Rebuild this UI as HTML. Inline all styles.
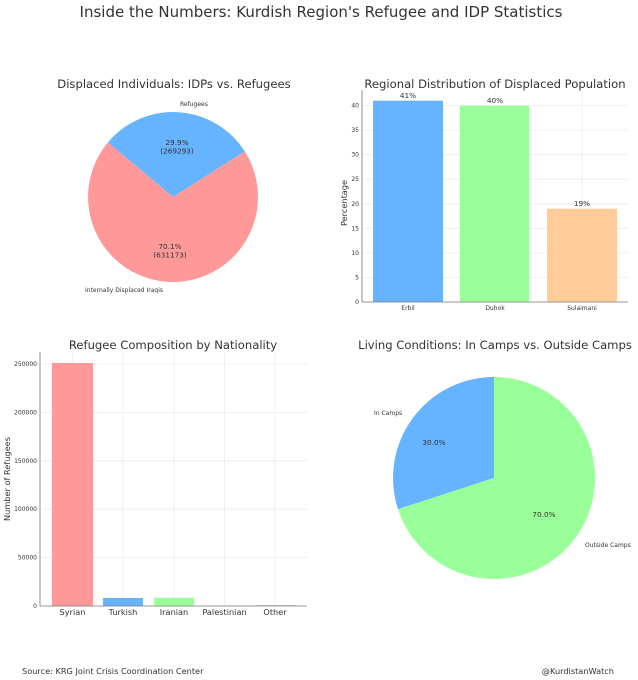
<!DOCTYPE html>
<html><head><meta charset="utf-8"><style>
body{margin:0;background:#fff}
svg{display:block;font-family:"DejaVu Sans","Liberation Sans",sans-serif}
</style></head><body>
<svg width="638" height="680" viewBox="0 0 638 680" xmlns="http://www.w3.org/2000/svg">
<rect width="638" height="680" fill="#fff"/>
<text x="321" y="17" font-size="15" text-anchor="middle" fill="#333">Inside the Numbers: Kurdish Region's Refugee and IDP Statistics</text>

<!-- Chart 1 pie -->
<text x="174" y="88" font-size="11.6" text-anchor="middle" fill="#333">Displaced Individuals: IDPs vs. Refugees</text>
<path d="M173,197 L244.8,151.5 A85,85 0 0 0 107.9,142.4 Z" fill="#66b3ff"/>
<path d="M173,197 L107.9,142.4 A85,85 0 1 0 244.8,151.5 Z" fill="#ff9999"/>
<text x="180" y="106" font-size="6" fill="#333">Refugees</text>
<text x="85" y="292" font-size="6" fill="#333">Internally Displaced Iraqis</text>
<text x="177" y="145" font-size="7.3" text-anchor="middle" fill="#333">29.9%</text>
<text x="177" y="153.5" font-size="7.3" text-anchor="middle" fill="#333">(269293)</text>
<text x="170" y="249" font-size="7.3" text-anchor="middle" fill="#333">70.1%</text>
<text x="170" y="257.5" font-size="7.3" text-anchor="middle" fill="#333">(631173)</text>

<!-- Chart 2 bars -->
<text x="495" y="88" font-size="11.6" text-anchor="middle" fill="#333">Regional Distribution of Displaced Population</text>
<g stroke="#ececec" stroke-width="0.8">
<line x1="362" x2="628" y1="277.5" y2="277.5"/><line x1="362" x2="628" y1="252.9" y2="252.9"/>
<line x1="362" x2="628" y1="228.3" y2="228.3"/><line x1="362" x2="628" y1="203.8" y2="203.8"/>
<line x1="362" x2="628" y1="179.2" y2="179.2"/><line x1="362" x2="628" y1="154.7" y2="154.7"/>
<line x1="362" x2="628" y1="130.1" y2="130.1"/><line x1="362" x2="628" y1="105.6" y2="105.6"/>
<line x1="408" x2="408" y1="90" y2="302"/><line x1="495" x2="495" y1="90" y2="302"/><line x1="582" x2="582" y1="90" y2="302"/>
</g>
<rect x="373" y="100.7" width="70" height="201.3" fill="#66b3ff"/>
<rect x="460" y="105.6" width="69" height="196.4" fill="#99ff99"/>
<rect x="547" y="208.7" width="70" height="93.3" fill="#ffcc99"/>
<line x1="362" x2="362" y1="90" y2="302" stroke="#777" stroke-width="0.8"/>
<line x1="362" x2="628" y1="302" y2="302" stroke="#777" stroke-width="0.8"/>
<g font-size="6" fill="#333" text-anchor="end">
<text x="359" y="304">0</text><text x="359" y="279.5">5</text><text x="359" y="254.9">10</text><text x="359" y="230.3">15</text>
<text x="359" y="205.8">20</text><text x="359" y="181.2">25</text><text x="359" y="156.7">30</text><text x="359" y="132.1">35</text><text x="359" y="107.6">40</text>
</g>
<g font-size="6" fill="#333" text-anchor="middle">
<text x="408" y="310">Erbil</text><text x="495" y="310">Duhok</text><text x="582" y="310">Sulaimani</text>
</g>
<g font-size="7.3" fill="#333" text-anchor="middle">
<text x="408" y="98">41%</text><text x="495" y="103">40%</text><text x="582" y="206">19%</text>
</g>
<text transform="translate(347,203) rotate(-90)" font-size="8.2" text-anchor="middle" fill="#333">Percentage</text>

<!-- Chart 3 bars -->
<text x="173" y="349" font-size="11.6" text-anchor="middle" fill="#333">Refugee Composition by Nationality</text>
<g stroke="#ececec" stroke-width="0.8">
<line x1="40" x2="307" y1="557.6" y2="557.6"/><line x1="40" x2="307" y1="509.2" y2="509.2"/>
<line x1="40" x2="307" y1="460.8" y2="460.8"/><line x1="40" x2="307" y1="412.4" y2="412.4"/>
<line x1="40" x2="307" y1="364" y2="364"/>
<line x1="72.5" x2="72.5" y1="352" y2="606"/><line x1="123" x2="123" y1="352" y2="606"/><line x1="174" x2="174" y1="352" y2="606"/>
<line x1="224.5" x2="224.5" y1="352" y2="606"/><line x1="275" x2="275" y1="352" y2="606"/>
</g>
<rect x="52" y="363" width="41" height="243" fill="#ff9999"/>
<rect x="103" y="598" width="40" height="8" fill="#66b3ff"/>
<rect x="154" y="597.8" width="40" height="8.2" fill="#99ff99"/>
<rect x="204.5" y="605.6" width="40" height="0.4" fill="#ffcc99"/>
<rect x="255" y="605.2" width="40" height="0.8" fill="#c2c2f0"/>
<line x1="40" x2="40" y1="352" y2="606" stroke="#777" stroke-width="0.8"/>
<line x1="40" x2="307" y1="606" y2="606" stroke="#777" stroke-width="0.8"/>
<g font-size="6" fill="#333" text-anchor="end">
<text x="37" y="608">0</text><text x="37" y="559.6">50000</text><text x="37" y="511.2">100000</text>
<text x="37" y="462.8">150000</text><text x="37" y="414.4">200000</text><text x="37" y="366">250000</text>
</g>
<g font-size="8.2" fill="#333" text-anchor="middle">
<text x="72.5" y="615">Syrian</text><text x="123" y="615">Turkish</text><text x="174" y="615">Iranian</text>
<text x="224.5" y="615">Palestinian</text><text x="275" y="615">Other</text>
</g>
<text transform="translate(10,479) rotate(-90)" font-size="8.2" text-anchor="middle" fill="#333">Number of Refugees</text>

<!-- Chart 4 pie -->
<text x="495" y="349" font-size="11.6" text-anchor="middle" fill="#333">Living Conditions: In Camps vs. Outside Camps</text>
<path d="M494,478 L494,377 A101,101 0 0 0 398,509.2 Z" fill="#66b3ff"/>
<path d="M494,478 L398,509.2 A101,101 0 1 0 494,377 Z" fill="#99ff99"/>
<text x="374" y="415" font-size="6" fill="#333">In Camps</text>
<text x="585" y="547" font-size="6" fill="#333">Outside Camps</text>
<text x="434" y="445" font-size="7.3" text-anchor="middle" fill="#333">30.0%</text>
<text x="544" y="517" font-size="7.3" text-anchor="middle" fill="#333">70.0%</text>

<text x="22" y="674" font-size="8.2" fill="#333">Source: KRG Joint Crisis Coordination Center</text>
<text x="614" y="674" font-size="8.2" text-anchor="end" fill="#333">@KurdistanWatch</text>
</svg>
</body></html>
